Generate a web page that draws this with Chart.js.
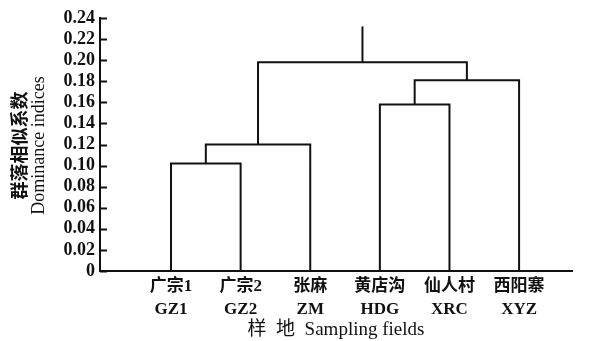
<!DOCTYPE html>
<html>
<head>
<meta charset="utf-8">
<script src="https://cdn.jsdelivr.net/npm/chart.js@4/dist/chart.umd.min.js"></script>
<style>
  html, body { margin: 0; padding: 0; background: #fff; }
</style>
</head>
<body>
<canvas id="canvas" width="591" height="341"></canvas>
<script>
'use strict';

const siteNames = ['广宗1', '广宗2', '张麻', '黄店沟', '仙人村', '西阳寨'];
const siteCodes = ['GZ1', 'GZ2', 'ZM', 'HDG', 'XRC', 'XYZ'];

// linkage order: ids 0-5 are the sites, each merge gets the next id (6, 7, ...)
const mergeLeft = [0, 6, 3, 8, 7];
const mergeRight = [1, 2, 4, 5, 9];
const mergeHeights = [0.102, 0.120, 0.158, 0.181, 0.198];
const rootTop = 0.232;

const yTickLabels = ['0', '0.02', '0.04', '0.06', '0.08', '0.10', '0.12', '0.14', '0.16', '0.18', '0.20', '0.22', '0.24'];

const lineColor = '#111';
const serif = "'Liberation Serif', 'Noto Sans CJK SC', serif";

function buildDendrogram() {
  const nodeX = siteNames.map((name, i) => i);
  const nodeY = siteNames.map(() => 0);
  const sets = [];
  for (let i = 0; i < mergeHeights.length; i++) {
    const a = mergeLeft[i];
    const b = mergeRight[i];
    const h = mergeHeights[i];
    sets.push([
      {x: nodeX[a], y: nodeY[a]},
      {x: nodeX[a], y: h},
      {x: nodeX[b], y: h},
      {x: nodeX[b], y: nodeY[b]}
    ]);
    nodeX.push((nodeX[a] + nodeX[b]) / 2);
    nodeY.push(h);
  }
  const root = nodeX.length - 1;
  sets.push([{x: nodeX[root], y: nodeY[root]}, {x: nodeX[root], y: rootTop}]);
  return sets.map(pts => ({
    data: pts,
    showLine: true,
    borderColor: lineColor,
    borderWidth: 2,
    pointRadius: 0,
    tension: 0,
    fill: false
  }));
}

// y ticks in the figure point into the plot
const inwardTicks = {
  id: 'inwardTicks',
  afterDraw(chart) {
    const y = chart.scales.y;
    const ctx = chart.ctx;
    ctx.save();
    ctx.strokeStyle = lineColor;
    ctx.lineWidth = 2;
    y.ticks.forEach(t => {
      const py = Math.round(y.getPixelForValue(t.value)) + 0.5;
      ctx.beginPath();
      ctx.moveTo(y.right, py);
      ctx.lineTo(y.right + 7, py);
      ctx.stroke();
    });
    ctx.restore();
  }
};

// two-line y title: bold chinese + serif english
const yTitle = {
  id: 'yTitle',
  afterDraw(chart) {
    const ctx = chart.ctx;
    const cy = (chart.chartArea.top + chart.chartArea.bottom) / 2 + 1;
    ctx.save();
    ctx.translate(19, cy);
    ctx.rotate(-Math.PI / 2);
    ctx.textAlign = 'center';
    ctx.textBaseline = 'middle';
    ctx.fillStyle = lineColor;
    ctx.font = "bold 18px 'Noto Sans CJK SC'";
    ctx.fillText('群落相似系数', 0, 0);
    ctx.font = "18px 'Liberation Serif'";
    ctx.fillText('Dominance indices', 0, 20);
    ctx.restore();
  }
};

const ctx = document.getElementById('canvas').getContext('2d');
new Chart(ctx, {
  type: 'scatter',
  data: { datasets: buildDendrogram() },
  plugins: [inwardTicks, yTitle],
  options: {
    responsive: false,
    animation: false,
    layout: { padding: { top: 18, right: 19, left: 0, bottom: 0 } },
    plugins: { legend: { display: false }, tooltip: { enabled: false } },
    scales: {
      x: {
        type: 'linear',
        min: -1.02,
        max: 5.76,
        afterBuildTicks: scale => { scale.ticks = siteNames.map((n, i) => ({value: i})); },
        afterFit: scale => { scale.height = 70; },
        grid: { display: true, drawOnChartArea: false, drawTicks: false },
        border: { display: true, color: lineColor, width: 2 },
        ticks: {
          autoSkip: false,
          maxRotation: 0,
          padding: 5,
          color: lineColor,
          font: { family: serif, size: 17, weight: 'bold', lineHeight: 1.3 },
          callback: (v, i) => [siteNames[i], siteCodes[i]]
        },
        title: {
          display: true,
          text: '样  地  Sampling fields',
          color: lineColor,
          padding: { top: 0, bottom: 1 },
          font: { family: serif, size: 19, lineHeight: 1.1 }
        }
      },
      y: {
        min: 0,
        max: 0.24,
        afterBuildTicks: scale => { scale.ticks = yTickLabels.map(t => ({value: Number(t)})); },
        afterFit: scale => { scale.width = 100; },
        grid: { display: true, drawOnChartArea: false, drawTicks: false },
        border: { display: true, color: lineColor, width: 2 },
        ticks: {
          autoSkip: false,
          padding: 5,
          color: lineColor,
          font: { family: serif, size: 18, weight: 'bold' },
          callback: (v, i) => yTickLabels[i]
        }
      }
    }
  }
});
</script>
</body>
</html>
